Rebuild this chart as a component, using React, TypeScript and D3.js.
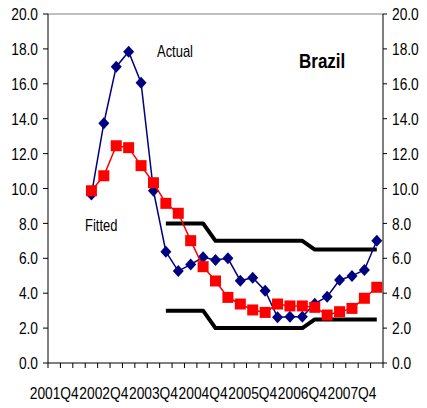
import React from "react";
import * as d3 from "d3";

const categories: string[] = [];
for (let i = 0; i < 27; i++) {
  const q = (3 + i) % 4 + 1;
  const y = 2001 + Math.floor((3 + i) / 4);
  categories.push(`${y}Q${q}`);
}

const actual: (number | null)[] = [null, null, null, 9.65, 13.74, 16.98, 17.84, 16.06, 9.87, 6.38, 5.27, 5.65, 6.06, 5.9, 6.0, 4.72, 4.89, 4.14, 2.62, 2.65, 2.65, 3.4, 3.8, 4.76, 4.99, 5.33, 7.01];
const fitted: (number | null)[] = [null, null, null, 9.87, 10.73, 12.45, 12.34, 11.31, 10.33, 9.15, 8.58, 7.01, 5.52, 4.7, 3.76, 3.38, 3.04, 2.9, 3.38, 3.27, 3.27, 3.19, 2.75, 2.94, 3.13, 3.71, 4.34];
const upperBand: (number | null)[] = [null, null, null, null, null, null, null, null, null, 8, 8, 8, 8, 7, 7, 7, 7, 7, 7, 7, 7, 6.5, 6.5, 6.5, 6.5, 6.5, 6.5];
const lowerBand: (number | null)[] = [null, null, null, null, null, null, null, null, null, 3, 3, 3, 3, 2, 2, 2, 2, 2, 2, 2, 2, 2.5, 2.5, 2.5, 2.5, 2.5, 2.5];
const yTicks = [0, 2, 4, 6, 8, 10, 12, 14, 16, 18, 20];

const W = 427, H = 408;
const L = 48, R = 383, T = 14, B = 363;
const FONT = "'Liberation Sans', Arial, sans-serif";
const SX = 0.81;

function NText(props: { x: number; y: number; size: number; anchor?: string; bold?: boolean; dy?: string; children: React.ReactNode }) {
  const { x, y, size, anchor = "start", bold = false, dy, children } = props;
  return (
    <text
      transform={`translate(${x},${y}) scale(${SX},1)`}
      dy={dy}
      textAnchor={anchor}
      fontSize={size}
      fontWeight={bold ? "bold" : "normal"}
      fill="#000"
    >
      {children}
    </text>
  );
}

export default function App() {
  const x = d3.scaleBand<string>().domain(categories).range([L, R]);
  const bw = x.bandwidth();
  const cx = (i: number) => (x(categories[i]) as number) + bw / 2;
  const y = d3.scaleLinear().domain([0, 20]).range([B, T]);

  const mkLine = (arr: (number | null)[]) =>
    d3.line<number | null>()
      .defined((d) => d !== null)
      .x((_, i) => cx(i))
      .y((d) => y(d as number))(arr) as string;

  const pts = (arr: (number | null)[]) =>
    arr.map((v, i) => ({ v, i })).filter((p) => p.v !== null) as { v: number; i: number }[];

  return (
    <svg width={W} height={H} style={{ position: "absolute", left: 0, top: 0, background: "#fff" }} fontFamily={FONT}>
      <rect x={0} y={0} width={W} height={H} fill="#fff" />
      {/* top border */}
      <line x1={L} x2={R} y1={T} y2={T} stroke="#808080" strokeWidth={1} />
      {/* axes */}
      <line x1={L} x2={L} y1={T} y2={B} stroke="#000" strokeWidth={1} />
      <line x1={R} x2={R} y1={T} y2={B} stroke="#000" strokeWidth={1} />
      <line x1={L} x2={R} y1={B} y2={B} stroke="#000" strokeWidth={1} />
      {yTicks.map((t) => (
        <g key={t}>
          <line x1={L - 5} x2={L} y1={y(t)} y2={y(t)} stroke="#000" />
          <line x1={R} x2={R + 4} y1={y(t)} y2={y(t)} stroke="#000" />
          <NText x={L - 10} y={y(t)} dy="0.36em" anchor="end" size={17}>{t.toFixed(1)}</NText>
          <NText x={R + 9} y={y(t)} dy="0.36em" anchor="start" size={17}>{t.toFixed(1)}</NText>
        </g>
      ))}
      {categories.map((c) => (
        <line key={c} x1={x(c) as number} x2={x(c) as number} y1={B} y2={B + 5} stroke="#000" />
      ))}
      <line x1={R} x2={R} y1={B} y2={B + 5} stroke="#000" />
      {categories.map((c, i) =>
        i % 4 === 0 ? (
          <NText key={c} x={cx(i)} y={399} anchor="middle" size={17}>{c}</NText>
        ) : null
      )}
      {/* bands */}
      <path d={mkLine(upperBand)} fill="none" stroke="#000" strokeWidth={4} strokeLinejoin="round" />
      <path d={mkLine(lowerBand)} fill="none" stroke="#000" strokeWidth={4} strokeLinejoin="round" />
      {/* actual */}
      <path d={mkLine(actual)} fill="none" stroke="#000080" strokeWidth={1.5} />
      {pts(actual).map((p) => (
        <path key={p.i} d={`M${cx(p.i)},${y(p.v) - 6}L${cx(p.i) + 5.5},${y(p.v)}L${cx(p.i)},${y(p.v) + 6}L${cx(p.i) - 5.5},${y(p.v)}Z`} fill="#000080" />
      ))}
      {/* fitted */}
      <path d={mkLine(fitted)} fill="none" stroke="#ff0000" strokeWidth={1.5} />
      {pts(fitted).map((p) => (
        <rect key={p.i} x={cx(p.i) - 5.5} y={y(p.v) - 5.5} width={11} height={11} fill="#ff0000" />
      ))}
      <NText x={157} y={56.5} size={16}>Actual</NText>
      <NText x={85} y={230.5} size={16}>Fitted</NText>
      <NText x={299} y={68} size={21} bold>Brazil</NText>
    </svg>
  );
}
